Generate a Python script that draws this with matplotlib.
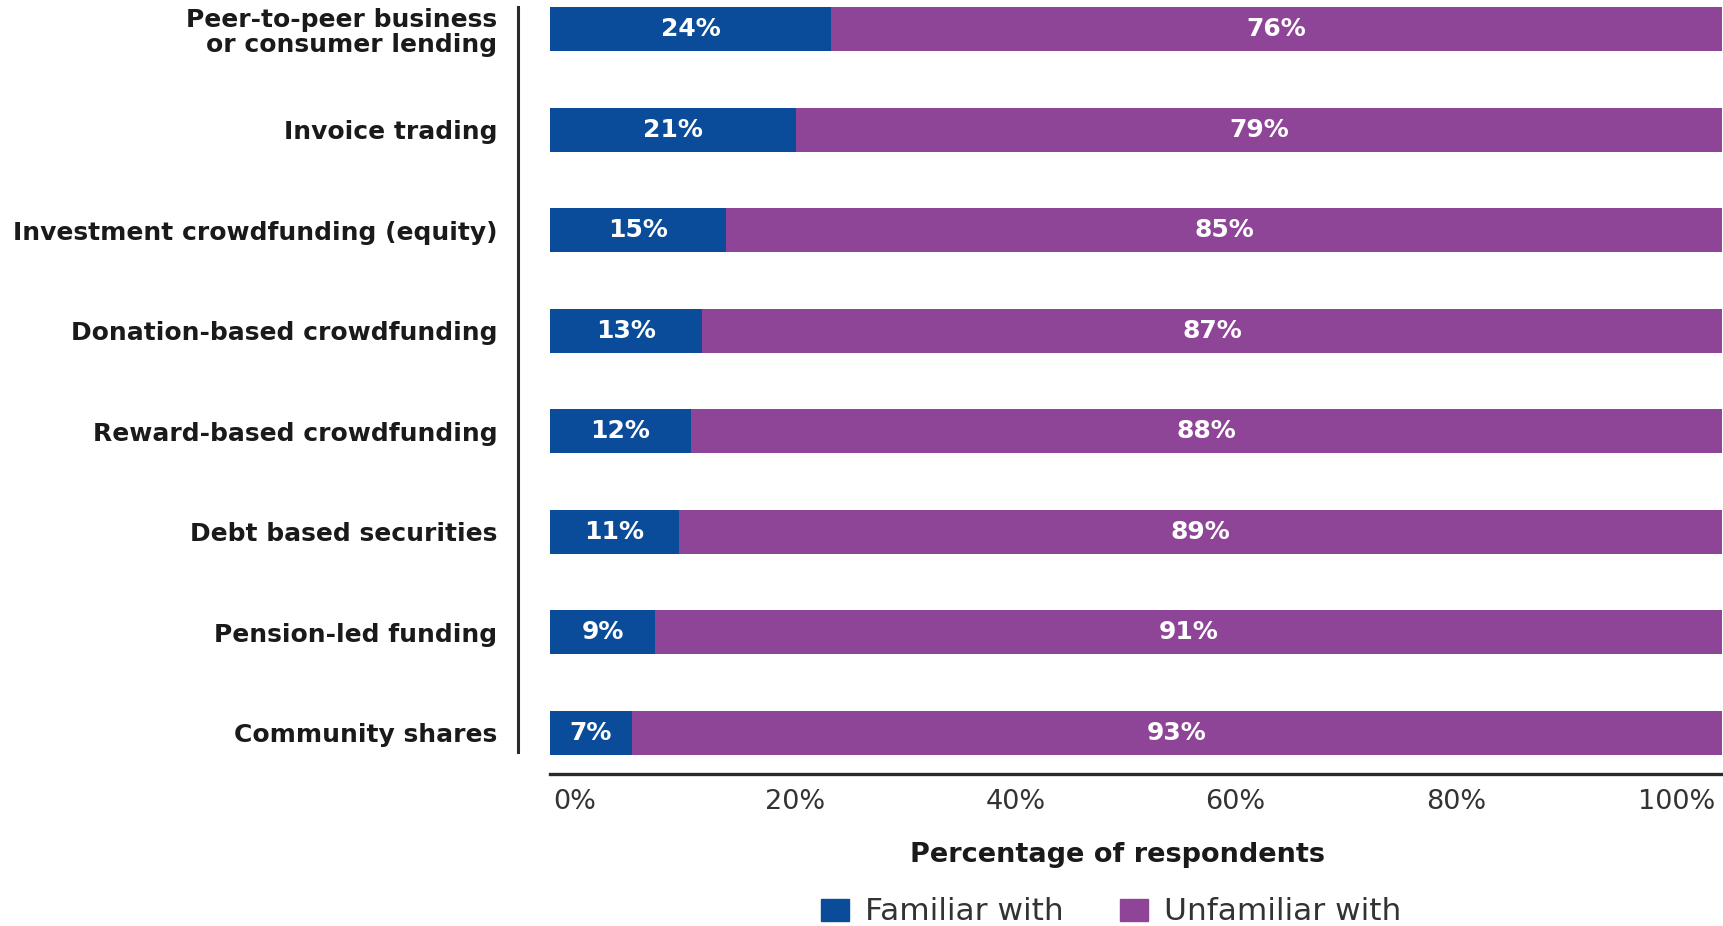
import matplotlib.pyplot as plt
from matplotlib.lines import Line2D
from matplotlib.patches import Patch
import numpy as np

# survey results, % of respondents
categories = ["Peer-to-peer business\nor consumer lending", "Invoice trading",
              "Investment crowdfunding (equity)", "Donation-based crowdfunding",
              "Reward-based crowdfunding", "Debt based securities",
              "Pension-led funding", "Community shares"]
familiar = [24, 21, 15, 13, 12, 11, 9, 7]
unfamiliar = [76, 79, 85, 87, 88, 89, 91, 93]
tick_labels = ["0%", "20%", "40%", "60%", "80%", "100%"]

blue = "#0A4C9A"
purple = "#8E4497"
W, H = 1723, 926

plt.rcParams['font.family'] = ['DejaVu Sans']
fig = plt.figure(figsize=(W / 100, H / 100), dpi=100)
ax = fig.add_axes([550 / W, 1 - 774 / H, 1172 / W, 767 / H])

y = np.arange(len(categories))
ax.barh(y, familiar, height=0.44, color=blue)
ax.barh(y, unfamiliar, left=familiar, height=0.44, color=purple)

for i in range(len(categories)):
    ax.text(familiar[i] / 2, y[i], f"{familiar[i]}%", color="white",
            ha="center", va="center", fontsize=18, fontweight="bold")
    ax.text(familiar[i] + unfamiliar[i] / 2, y[i], f"{unfamiliar[i]}%", color="white",
            ha="center", va="center", fontsize=18, fontweight="bold")

ax.set_xlim(0, 100)
ax.set_ylim(7.41, -0.22)
ax.set_yticks(y)
ax.set_yticklabels(categories, fontsize=18, fontweight="bold", color="#1a1a1a",
                   linespacing=1.05)
for lab in ax.get_yticklabels():
    lab.set_multialignment("right")
ax.set_xticks(np.linspace(2.1, 96.1, 6))
ax.set_xticklabels(tick_labels, fontsize=19.5, color="#333333")
ax.tick_params(axis="y", length=0, pad=38)
ax.tick_params(axis="x", length=0, pad=11)

for s in ["top", "right", "left"]:
    ax.spines[s].set_visible(False)
ax.spines["bottom"].set_linewidth(2.4)
ax.spines["bottom"].set_color("#2a2a2a")

# separator between labels and bars
fig.add_artist(Line2D([518 / W, 518 / W], [1 - 7 / H, 1 - 752 / H],
                      color="#2a2a2a", lw=2.2))

fig.text(1118 / W, 1 - 855 / H, "Percentage of respondents", ha="center",
         va="center", fontsize=19.5, fontweight="bold", color="#1a1a1a")

handles = [Patch(color=blue, label="Familiar with"),
           Patch(color=purple, label="Unfamiliar with")]
fig.legend(handles=handles, loc="center", bbox_to_anchor=(1111 / W, 1 - 912 / H),
           ncol=2, frameon=False, fontsize=22.5, handlelength=0.9, handleheight=0.7,
           handletextpad=0.5, columnspacing=1.8, labelcolor="#333333")

fig.savefig("out.png", dpi=100)
